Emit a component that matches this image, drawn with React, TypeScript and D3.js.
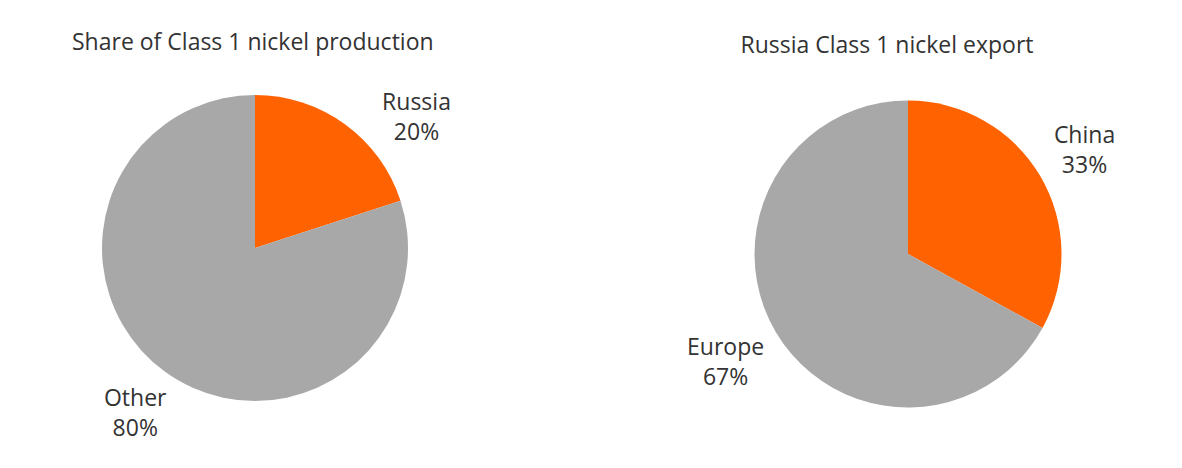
import * as d3 from "d3";

const WIDTH = 1182;
const HEIGHT = 468;

// Left chart: share of Class 1 nickel production
const productionTitle = "Share of Class 1 nickel production";
const productionLabels = ["Russia", "Other"];
const productionValues = [20, 80];

// Right chart: Russia Class 1 nickel export
const exportTitle = "Russia Class 1 nickel export";
const exportLabels = ["China", "Europe"];
const exportValues = [33, 67];

const COLORS = ["#FF6200", "#A8A8A8"];
const FONT_SIZE = 23;
const FONT = "'Open Sans', sans-serif";
const TEXT = "#333333";
const LINE = 30;
const GAP = 13;

// measure label widths so the label box sits just outside the slice
const ctx = document.createElement("canvas").getContext("2d")!;
function textWidth(s: string) {
  ctx.font = `${FONT_SIZE}px 'Open Sans'`;
  return ctx.measureText(s).width;
}

type PieProps = {
  title: string;
  labels: string[];
  values: number[];
  cx: number;
  cy: number;
  radius: number;
  titleX: number;
  titleAnchor: "start" | "middle";
  titleY: number;
};

function Pie({ title, labels, values, cx, cy, radius, titleX, titleAnchor, titleY }: PieProps) {
  const pie = d3
    .pie<number>()
    .sort(null)
    .value((d) => d);
  const arcs = pie(values);
  const arc = d3.arc<d3.PieArcDatum<number>>().innerRadius(0).outerRadius(radius);
  const total = d3.sum(values);
  // keep labels clear of the title
  const minY = titleY + 65;

  return (
    <g>
      <text x={titleX} y={titleY} textAnchor={titleAnchor} fontSize={FONT_SIZE} fill={TEXT} fontFamily={FONT}>
        {title}
      </text>
      <g transform={`translate(${cx},${cy})`}>
        {arcs.map((a, i) => (
          <path key={i} d={arc(a) ?? ""} fill={COLORS[i]} />
        ))}
        {arcs.map((a, i) => {
          const pct = Math.round((values[i] / total) * 100);
          const w = Math.max(textWidth(labels[i]), textWidth(`${pct}%`));
          const h = LINE + 18;
          const place = (ang: number) => {
            const sx = Math.sin(ang);
            const sy = -Math.cos(ang);
            const ext = Math.abs(sx) * (w / 2) + Math.abs(sy) * (h / 2);
            const d = radius + GAP + ext;
            return [sx * d, sy * d];
          };
          let ang = (a.startAngle + a.endAngle) / 2;
          let [lx, ly] = place(ang);
          const side = Math.sin(ang) >= 0 ? 1 : -1;
          let n = 0;
          while (cy + ly < minY && n < 90) {
            ang += side * (Math.PI / 180);
            [lx, ly] = place(ang);
            n++;
          }
          return (
            <text key={`l${i}`} x={lx} y={ly} textAnchor="middle" fontSize={FONT_SIZE} fill={TEXT} fontFamily={FONT}>
              <tspan x={lx} dy={-7}>{labels[i]}</tspan>
              <tspan x={lx} dy={LINE}>{pct}%</tspan>
            </text>
          );
        })}
      </g>
    </g>
  );
}

export default function App() {
  return (
    <svg
      width={WIDTH}
      height={HEIGHT}
      style={{ position: "absolute", left: 0, top: 0, background: "#fff" }}
    >
      <Pie
        title={productionTitle}
        labels={productionLabels}
        values={productionValues}
        cx={255}
        cy={248}
        radius={153}
        titleX={72}
        titleAnchor="start"
        titleY={50}
      />
      <Pie
        title={exportTitle}
        labels={exportLabels}
        values={exportValues}
        cx={908}
        cy={254}
        radius={153.5}
        titleX={887}
        titleAnchor="middle"
        titleY={53}
      />
    </svg>
  );
}
